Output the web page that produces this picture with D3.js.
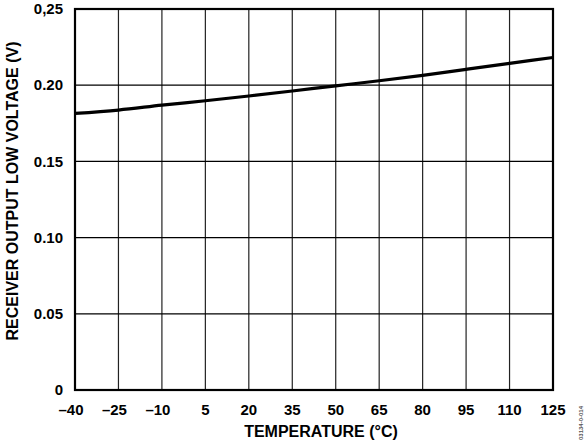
<!DOCTYPE html>
<html>
<head>
<meta charset="utf-8">
<script src="https://cdn.jsdelivr.net/npm/d3@7"></script>
<style>
  body { margin: 0; background: #fff; }
  text { font-family: "Liberation Sans", Arial, sans-serif; font-weight: bold; fill: #000; }
</style>
</head>
<body>
<div class="chart"></div>
<script>
// temperature (°C) vs receiver output low voltage (V)
var temps = [-40, -25, -10, 5, 20, 35, 50, 65, 80, 95, 110, 125];
var volts = [0.1815, 0.1837, 0.1869, 0.1898, 0.1929, 0.1962, 0.1996, 0.2029, 0.2065, 0.2104, 0.2143, 0.2182];

var xTicks = [-40, -25, -10, 5, 20, 35, 50, 65, 80, 95, 110, 125];
var yTicks = [0, 0.05, 0.10, 0.15, 0.20, 0.25];
var yTickLabels = ["0", "0.05", "0.10", "0.15", "0.20", "0,25"];

var margin = {top: 9, right: 35, bottom: 50, left: 75},
    width = 588 - margin.left - margin.right,
    height = 440 - margin.top - margin.bottom;

var svg = d3.select(".chart").append("svg")
    .attr("width", 588)
    .attr("height", 440);

var g = svg.append("g")
    .attr("transform", "translate(" + margin.left + "," + margin.top + ")");

var x = d3.scaleLinear().domain([-40, 125]).range([0, width]);
var y = d3.scaleLinear().domain([0, 0.25]).range([height, 0]);

// vertical grid
g.append("g")
  .selectAll("line")
  .data(xTicks.slice(1, -1))
  .enter().append("line")
    .attr("x1", function(d){ return x(d); })
    .attr("x2", function(d){ return x(d); })
    .attr("y1", 0)
    .attr("y2", height)
    .attr("stroke", "#222")
    .attr("stroke-width", 1.2);

// horizontal grid
g.append("g")
  .selectAll("line")
  .data(yTicks.slice(1, -1))
  .enter().append("line")
    .attr("x1", 0)
    .attr("x2", width)
    .attr("y1", function(d){ return y(d); })
    .attr("y2", function(d){ return y(d); })
    .attr("stroke", "#000")
    .attr("stroke-width", 1.2);

// x tick labels
g.append("g")
  .selectAll("text")
  .data(xTicks)
  .enter().append("text")
    .attr("x", function(d){ return x(d) + (d < 0 ? -4 : 0); })
    .attr("y", height + 25)
    .attr("text-anchor", "middle")
    .attr("font-size", "15px")
    .text(function(d){ return d < 0 ? "\u2013" + Math.abs(d) : d; });

// y tick labels
g.append("g")
  .selectAll("text")
  .data(yTicks)
  .enter().append("text")
    .attr("x", -12)
    .attr("y", function(d){ return y(d); })
    .attr("dy", "0.35em")
    .attr("text-anchor", "end")
    .attr("font-size", "15px")
    .text(function(d, i){ return yTickLabels[i]; });

// data line
var line = d3.line()
    .x(function(d, i){ return x(temps[i]); })
    .y(function(d){ return y(d); })
    .curve(d3.curveMonotoneX);

g.append("path")
    .datum(volts)
    .attr("d", line)
    .attr("fill", "none")
    .attr("stroke", "#000")
    .attr("stroke-width", 3.2);

// frame
g.append("rect")
    .attr("x", 0)
    .attr("y", 0)
    .attr("width", width)
    .attr("height", height)
    .attr("fill", "none")
    .attr("stroke", "#000")
    .attr("stroke-width", 2.2);

// axis titles
svg.append("text")
    .attr("x", 321)
    .attr("y", 437)
    .attr("text-anchor", "middle")
    .attr("font-size", "16px")
    .text("TEMPERATURE (\u00B0C)");

svg.append("text")
    .attr("transform", "translate(18,191) rotate(-90)")
    .attr("text-anchor", "middle")
    .attr("font-size", "16px")
    .text("RECEIVER OUTPUT LOW VOLTAGE (V)");

// figure id
svg.append("text")
    .attr("transform", "translate(583,440) rotate(-90)")
    .attr("text-anchor", "start")
    .attr("font-size", "6px")
    .attr("font-weight", "normal")
    .style("fill", "#555")
    .text("03134-0-014");
</script>
</body>
</html>
